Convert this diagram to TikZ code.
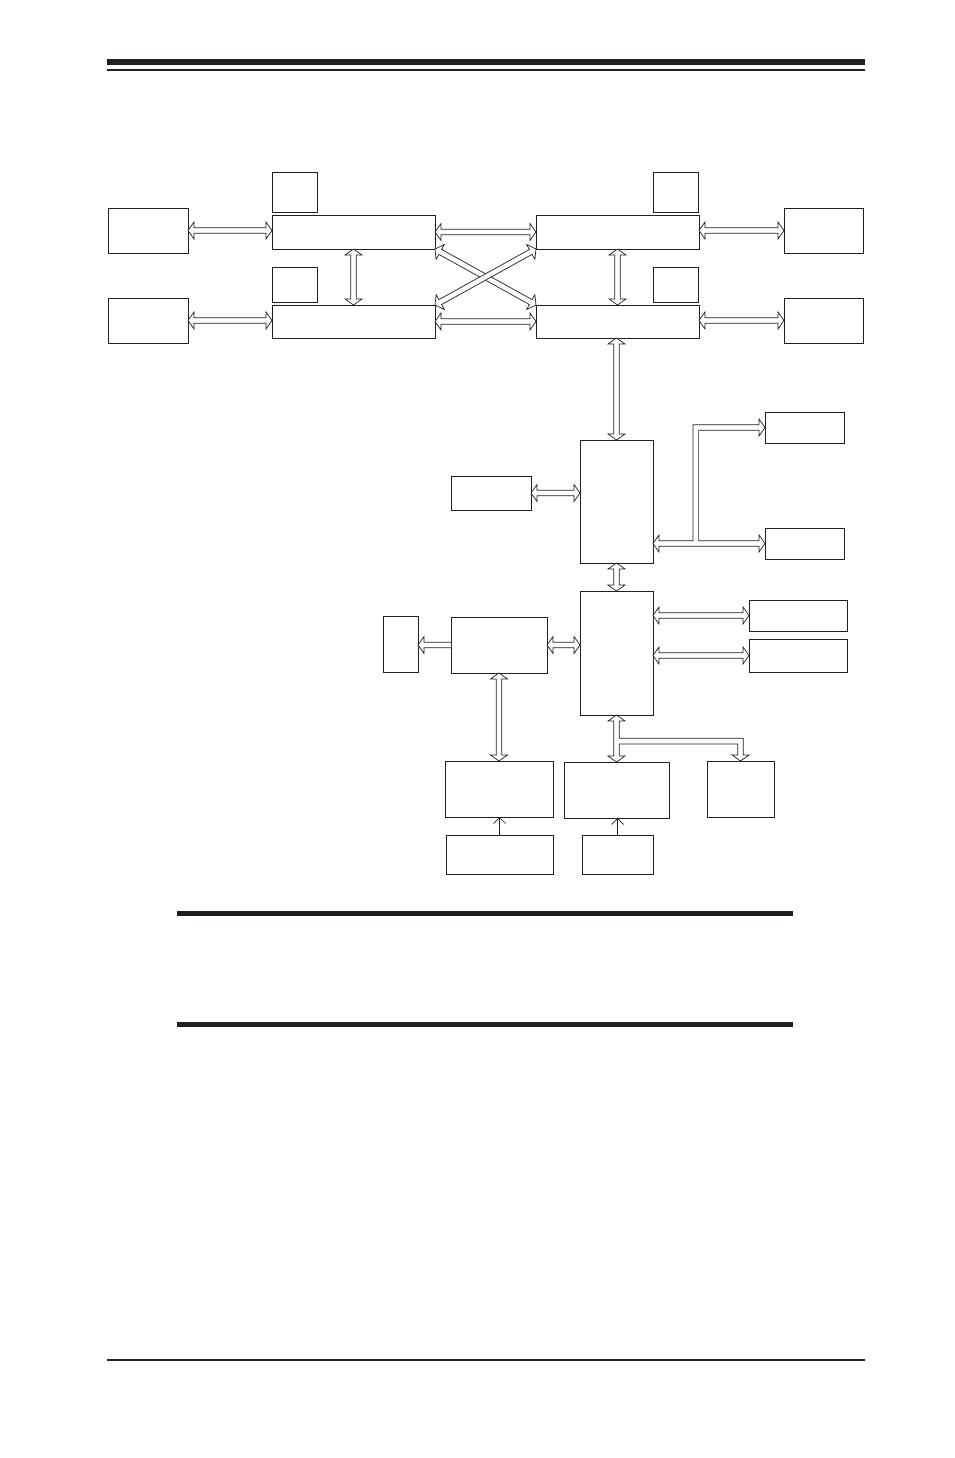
\documentclass[tikz,border=0pt]{standalone}
\usetikzlibrary{calc,arrows.meta}
\definecolor{ink}{RGB}{35,31,32}
\tikzset{
  box/.style={draw=ink, line width=0.9pt, inner sep=0pt, outer sep=0pt, anchor=north west},
  conn/.style={draw=ink, line width=0.7pt, fill=white, line join=miter},
  thinarrow/.style={draw=ink, line width=0.8pt, -{Straight Barb[length=6pt,width=12pt,line width=0.7pt]}},
  rule/.style={draw=ink}
}
\newcommand\bx[5]{\node[box, minimum width={#4pt-#2pt}, minimum height={#5pt-#3pt}] (#1) at (#2,#3) {};}
% double-headed hollow arrow between two points
\newcommand\dbl[2]{%
  \path (#1) coordinate (dA) (#2) coordinate (dB);
  \draw[conn] (dA) -- ($(dA)!6pt!(dB)!8.5pt!90:(dB)$) -- ($(dA)!6pt!(dB)!2.8pt!90:(dB)$)
    -- ($(dB)!6pt!(dA)!2.8pt!-90:(dA)$) -- ($(dB)!6pt!(dA)!8.5pt!-90:(dA)$) -- (dB)
    -- ($(dB)!6pt!(dA)!8.5pt!90:(dA)$) -- ($(dB)!6pt!(dA)!2.8pt!90:(dA)$)
    -- ($(dA)!6pt!(dB)!2.8pt!-90:(dB)$) -- ($(dA)!6pt!(dB)!8.5pt!-90:(dB)$) -- cycle;}
% single-headed hollow arrow (head at second point)
\newcommand\sgl[2]{%
  \path (#1) coordinate (dA) (#2) coordinate (dB);
  \draw[conn] ($(dA)!2.8pt!90:(dB)$) -- ($(dB)!6pt!(dA)!2.8pt!-90:(dA)$) -- ($(dB)!6pt!(dA)!8.5pt!-90:(dA)$)
    -- (dB) -- ($(dB)!6pt!(dA)!8.5pt!90:(dA)$) -- ($(dB)!6pt!(dA)!2.8pt!90:(dA)$) -- ($(dA)!2.8pt!-90:(dB)$);}
\begin{document}
\begin{tikzpicture}[x=1pt,y=-1pt]
\path[use as bounding box, fill=white] (0,0) rectangle (954,1458);
% page rules
\draw[rule, line width=6pt] (107,62) -- (865,62);
\draw[rule, line width=2pt] (107,70) -- (865,70);
\draw[rule, line width=5pt] (177,913.5) -- (793,913.5);
\draw[rule, line width=5pt] (177,1024.5) -- (793,1024.5);
\draw[rule, line width=2pt] (107,1360) -- (865,1360);
% boxes
\bx{s1}{272}{172}{317}{212}
\bx{s2}{272}{267}{317}{302}
\bx{s3}{653}{172}{698}{212}
\bx{s4}{653}{267}{698}{302}
\bx{lt}{108}{208}{188}{253}
\bx{lb}{108}{298}{188}{343}
\bx{cpua}{272}{215}{435}{249}
\bx{cpub}{272}{305}{435}{338}
\bx{cpuc}{536}{215}{699}{249}
\bx{cpud}{536}{305}{699}{338}
\bx{rta}{784}{208}{863}{253}
\bx{rba}{784}{298}{863}{343}
\bx{mch}{580}{440}{653}{563}
\bx{gfx}{451}{476}{531}{510}
\bx{rt}{765}{412}{844}{443}
\bx{rb}{765}{528}{844}{559}
\bx{ich}{580}{591}{653}{715}
\bx{sio}{451}{617}{547}{673}
\bx{kb}{383}{616}{418}{672}
\bx{ra}{749}{600}{847}{631}
\bx{rbb}{749}{639}{847}{672}
\bx{ba}{445}{761}{553}{817}
\bx{bc}{564}{762}{669}{818}
\bx{bd}{707}{761}{774}{817}
\bx{la}{446}{835}{553}{874}
\bx{lc}{582}{835}{653}{874}
% connectors
\dbl{lt.east}{lt.east -| cpua.west}
\dbl{lb.east}{lb.east -| cpub.west}
\dbl{cpua.south}{cpub.north}
\dbl{cpua.east}{cpuc.west}
\dbl{cpub.east}{cpud.west}
\dbl{cpua.south east}{cpud.north west}
\dbl{cpub.north east}{cpuc.south west}
\dbl{cpuc.south}{cpud.north}
\dbl{rta.west -| cpuc.east}{rta.west}
\dbl{rba.west -| cpud.east}{rba.west}
\dbl{cpud.south -| mch.north}{mch.north}
\dbl{gfx.east}{gfx.east -| mch.west}
\dbl{mch.south}{ich.north}
\dbl{ra.west -| ich.east}{ra.west}
\dbl{rbb.west -| ich.east}{rbb.west}
\dbl{sio.east}{sio.east -| ich.west}
\sgl{sio.west}{sio.west -| kb.east}
\dbl{sio.south}{sio.south |- ba.north}
% branched connector MCH -> rt / rb
\draw[conn] (mch.east |- rb.west) -- ++(6,-8.5) -- ++(0,5.7) -- ++(34,0) -- ++(0,-116)
  -- ++(66,0) -- ++(0,-5.7) -- ++(6,8.5) -- ++(-6,8.5) -- ++(0,-5.7) -- ++(-60.4,0)
  -- ++(0,110.4) -- ++(60.4,0) -- ++(0,-5.7) -- ++(6,8.5) -- ++(-6,8.5) -- ++(0,-5.7)
  -- ++(-100,0) -- ++(0,5.7) -- cycle;
% branched connector ICH -> bc / bd
\draw[conn] (ich.south) -- ++(8.5,6) -- ++(-5.7,0) -- ++(0,17.3) -- ++(124,0) -- ++(0,16.7)
  -- ++(5.7,0) -- ++(-8.5,6) -- ++(-8.5,-6) -- ++(5.7,0) -- ++(0,-11.1) -- ++(-118.4,0)
  -- ++(0,12.1) -- ++(5.7,0) -- ++(-8.5,6) -- ++(-8.5,-6) -- ++(5.7,0) -- ++(0,-35)
  -- ++(-5.7,0) -- cycle;
% thin arrows
\draw[thinarrow] (la.north) -- (la.north |- ba.south);
\draw[thinarrow] (lc.north) -- (lc.north |- bc.south);
\end{tikzpicture}
\end{document}
